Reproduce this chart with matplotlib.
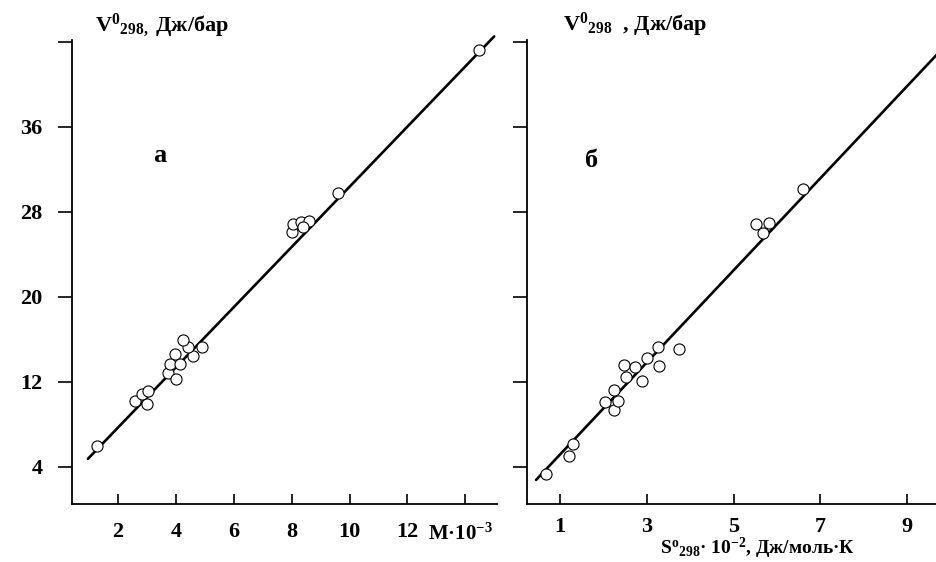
import matplotlib
matplotlib.use("Agg")
import matplotlib.pyplot as plt

plt.rcParams['font.family'] = ['Liberation Serif', 'DejaVu Serif']
plt.rcParams['font.weight'] = 'bold'
plt.rcParams['mathtext.fontset'] = 'custom'
plt.rcParams['mathtext.rm'] = 'Liberation Serif:bold'
plt.rcParams['mathtext.bf'] = 'Liberation Serif:bold'
plt.rcParams['mathtext.it'] = 'Liberation Serif:bold'

# ---- panel a: V vs M*10^-3 ----
m_vals = [1.27, 2.59, 2.83, 3.04, 3.00, 3.73, 4.01, 3.80, 4.15, 3.97, 4.60,
          4.42, 4.91, 4.25, 8.02, 8.06, 8.33, 8.61, 8.40, 9.61, 14.46]
v_a_vals = [5.98, 10.23, 10.89, 11.17, 9.94, 12.87, 12.30, 13.72, 13.72, 14.57,
            14.47, 15.23, 15.23, 15.89, 26.08, 26.83, 27.02, 27.11, 26.55,
            29.75, 43.25]
line_a_x = [0.96, 15.0]
line_a_y = [4.75, 44.5]

# ---- panel b: V vs S*10^-2 ----
s_vals = [0.68, 1.21, 1.30, 2.04, 2.24, 2.34, 2.24, 2.52, 2.47, 2.73, 2.89,
          3.00, 3.26, 3.28, 3.74, 5.52, 5.82, 5.68, 6.60]
v_b_vals = [3.34, 5.04, 6.17, 10.13, 9.38, 10.23, 11.26, 12.49, 13.62, 13.43,
            12.11, 14.28, 15.23, 13.53, 15.04, 26.83, 26.92, 25.98, 30.13]
line_b_x = [0.45, 9.69]
line_b_y = [2.77, 42.8]

y_ticks = [4, 12, 20, 28, 36, 44]
y_ticklabels = ["4", "12", "20", "28", "36", ""]
xa_ticks = [2, 4, 6, 8, 10, 12, 14]
xa_ticklabels = ["2", "4", "6", "8", "10", "12", ""]
xb_ticks = [1, 3, 5, 7, 9]
xb_ticklabels = ["1", "3", "5", "7", "9"]

W, H = 937, 562
fig = plt.figure(figsize=(W / 100, H / 100), dpi=100)

def frac_box(x0, x1, ytop, ybot):
    return [x0 / W, 1 - ybot / H, (x1 - x0) / W, (ybot - ytop) / H]

ax1 = fig.add_axes(frac_box(72, 500, 30, 504))
ax2 = fig.add_axes(frac_box(527, 937, 30, 504))

ylim = (0.5, 45.1)

for ax in (ax1, ax2):
    ax.set_ylim(*ylim)
    ax.spines['top'].set_visible(False)
    ax.spines['right'].set_visible(False)
    ax.spines['left'].set_linewidth(1.3)
    ax.spines['bottom'].set_linewidth(1.3)
    ax.spines['left'].set_bounds(ylim[0], 44.2)
    ax.tick_params(axis='y', direction='out', length=10, width=1.2, pad=11,
                   labelsize=16)
    ax.tick_params(axis='x', direction='in', length=7, width=1.2, pad=13,
                   labelsize=16)
    ax.set_yticks(y_ticks)
    ax.patch.set_visible(False)

# panel a
ax1.set_xlim(0.41, 15.2)
ax1.plot(line_a_x, line_a_y, color='black', lw=1.9, solid_capstyle='round', zorder=2)
ax1.plot(m_vals, v_a_vals, 'o', ms=8, mfc='white', mec='black', mew=0.8, zorder=3)
ax1.set_xticks(xa_ticks)
ax1.set_xticklabels(xa_ticklabels)
ax1.set_yticklabels(y_ticklabels)
ax1.spines['bottom'].set_bounds(0.41, 15.1)

# panel b
ax2.set_xlim(0.24, 9.69)
ax2.plot(line_b_x, line_b_y, color='black', lw=1.9, solid_capstyle='round', zorder=2)
ax2.plot(s_vals, v_b_vals, 'o', ms=8, mfc='white', mec='black', mew=0.8, zorder=3)
ax2.set_xticks(xb_ticks)
ax2.set_xticklabels(xb_ticklabels)
ax2.set_yticklabels([])
ax2.tick_params(axis='x', pad=9)

# texts
fig.text(95 / W, 1 - 31 / H, r"V$^{\mathrm{0}}$$_{\mathrm{298,}}$ Дж/бар", fontsize=16,
         fontweight='bold', ha='left', va='baseline')
fig.text(563 / W, 1 - 31 / H, r"V$^{\mathrm{0}}$$_{\mathrm{298}}$  , Дж/бар", fontsize=16,
         fontweight='bold', ha='left', va='baseline')
fig.text(160 / W, 1 - 162 / H, "а", fontsize=19, fontweight='bold',
         ha='center', va='baseline')
fig.text(592 / W, 1 - 167 / H, "б", fontsize=19, fontweight='bold',
         ha='center', va='baseline')
fig.text(428 / W, 1 - 540 / H, r"M·10$^{\mathrm{-3}}$", fontsize=15,
         fontweight='bold', ha='left', va='baseline')
fig.text(757 / W, 1 - 554 / H, r"S$^{\mathrm{o}}$$_{\mathrm{298}}$· 10$^{\mathrm{-2}}$, Дж/моль·К",
         fontsize=14, fontweight='bold', ha='center', va='baseline')

fig.savefig("out.png", dpi=100)
